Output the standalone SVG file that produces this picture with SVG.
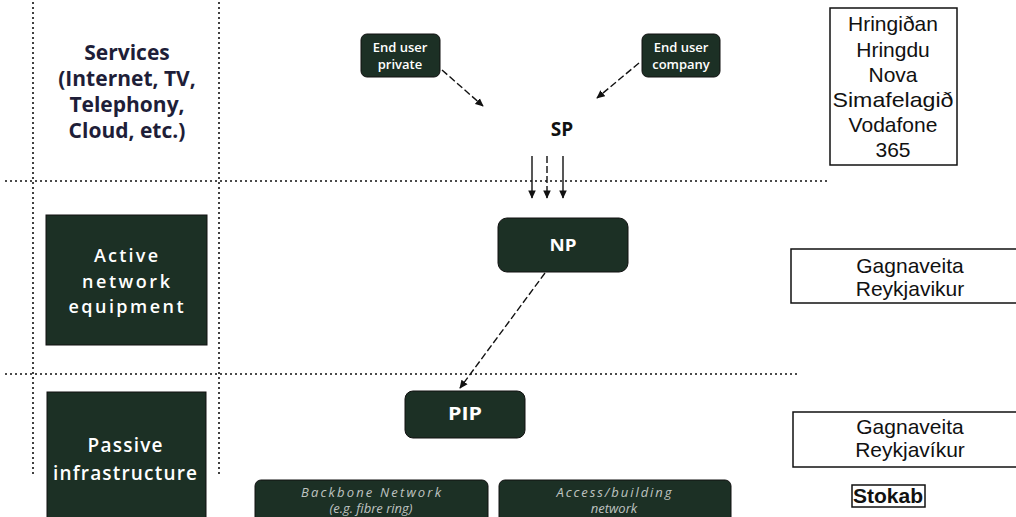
<svg xmlns="http://www.w3.org/2000/svg" width="1016" height="517" viewBox="0 0 1016 517">
<style>
.bg{fill:#ffffff}
.dot{stroke:#111;stroke-width:1.6;stroke-dasharray:2 3;fill:none}
.dash{stroke:#111;stroke-width:1.4;stroke-dasharray:7 3;fill:none}
.solid{stroke:#111;stroke-width:1.4;fill:none}
.dk{fill:#1c3025;stroke:#111;stroke-width:1}
.lbl{font-family:"Open Sans","DejaVu Sans",sans-serif;fill:#ffffff;text-anchor:middle}
.svc{font-family:"Open Sans","DejaVu Sans",sans-serif;font-weight:bold;fill:#1e1e38;text-anchor:middle;font-size:21px}
.rt{font-family:"Liberation Sans",Arial,sans-serif;fill:#111;text-anchor:middle;font-size:21px}
.box{fill:#fff;stroke:#111;stroke-width:1.5}
.it{font-size:13px;font-style:italic;fill-opacity:0.72}
</style>
<defs>
<marker id="ah" viewBox="0 0 10 10" refX="9" refY="5" markerWidth="6" markerHeight="6" orient="auto-start-reverse">
<path d="M0,0.5 L10,5 L0,9.5 z" fill="#111"/>
</marker>
</defs>
<rect class="bg" width="1016" height="517"/>
<g id="grid">
<line class="dot" x1="33" y1="2" x2="33" y2="475"/>
<line class="dot" x1="219" y1="2" x2="219" y2="475"/>
<line class="dot" x1="5" y1="181" x2="828" y2="181"/>
<line class="dot" x1="5" y1="374" x2="800" y2="374"/>
</g>
<g id="services">
<text class="svc" x="127" y="60">Services</text>
<text class="svc" x="127" y="86">(Internet, TV,</text>
<text class="svc" x="127" y="112">Telephony,</text>
<text class="svc" x="127" y="138">Cloud, etc.)</text>
</g>
<g id="active">
<rect class="dk" x="46" y="215" width="161" height="130"/>
<text class="lbl" x="126" y="262" font-size="18" font-weight="600" textLength="64" lengthAdjust="spacing">Active</text>
<text class="lbl" x="126" y="288" font-size="18" font-weight="600" textLength="88" lengthAdjust="spacing">network</text>
<text class="lbl" x="126" y="313" font-size="18" font-weight="600" textLength="115" lengthAdjust="spacing">equipment</text>
</g>
<g id="passive">
<rect class="dk" x="47" y="392" width="159" height="130"/>
<text class="lbl" x="125" y="452" font-size="19" font-weight="600" textLength="75" lengthAdjust="spacing">Passive</text>
<text class="lbl" x="125" y="480" font-size="19" font-weight="600" textLength="144" lengthAdjust="spacing">infrastructure</text>
</g>
<g id="enduser-private">
<rect class="dk" x="361" y="34" width="79" height="43" rx="6"/>
<text class="lbl" x="400" y="52" font-size="13" font-weight="600">End user</text>
<text class="lbl" x="400" y="69" font-size="13" font-weight="600">private</text>
</g>
<g id="enduser-company">
<rect class="dk" x="642" y="34" width="78" height="43" rx="6"/>
<text class="lbl" x="681" y="52" font-size="13" font-weight="600">End user</text>
<text class="lbl" x="681" y="69" font-size="13" font-weight="600">company</text>
</g>
<g id="sp">
<text class="svc" x="562" y="136" style="fill:#111;font-size:19px">SP</text>
</g>
<g id="np">
<rect class="dk" x="498" y="218" width="130" height="54" rx="9"/>
<text class="lbl" x="563" y="251" font-size="16" font-weight="bold" textLength="27" lengthAdjust="spacingAndGlyphs">NP</text>
</g>
<g id="pip">
<rect class="dk" x="405" y="391" width="120" height="47" rx="8"/>
<text class="lbl" x="465" y="420" font-size="18" font-weight="bold" textLength="34" lengthAdjust="spacingAndGlyphs">PIP</text>
</g>
<g id="backbone">
<rect class="dk" x="255" y="480" width="233" height="45" rx="6"/>
<text class="lbl it" x="371" y="497" textLength="140" lengthAdjust="spacing">Backbone Network</text>
<text class="lbl it" x="371" y="513">(e.g. fibre ring)</text>
</g>
<g id="access">
<rect class="dk" x="499" y="480" width="232" height="45" rx="6"/>
<text class="lbl it" x="614" y="497" textLength="115" lengthAdjust="spacing">Access/building</text>
<text class="lbl it" x="614" y="513">network</text>
</g>
<g id="providers">
<rect class="box" x="830" y="8" width="127" height="157"/>
<text class="rt" x="893" y="31">Hringiðan</text>
<text class="rt" x="893" y="57">Hringdu</text>
<text class="rt" x="893" y="82">Nova</text>
<text class="rt" x="893" y="107" textLength="121" lengthAdjust="spacingAndGlyphs">Simafelagið</text>
<text class="rt" x="893" y="132">Vodafone</text>
<text class="rt" x="893" y="157">365</text>
</g>
<g id="gr-active">
<rect class="box" x="791" y="249" width="240" height="54"/>
<text class="rt" x="910" y="273">Gagnaveita</text>
<text class="rt" x="910" y="296">Reykjavikur</text>
</g>
<g id="gr-passive">
<rect class="box" x="793" y="412" width="240" height="55"/>
<text class="rt" x="910" y="434">Gagnaveita</text>
<text class="rt" x="910" y="457">Reykjavíkur</text>
</g>
<g id="stokab">
<rect class="box" x="852" y="485" width="73" height="22"/>
<text class="rt" x="888" y="503" font-weight="bold">Stokab</text>
</g>
<g id="connectors">
<line class="dash" x1="442" y1="70" x2="483" y2="106" marker-end="url(#ah)"/>
<line class="dash" x1="639" y1="63" x2="597" y2="98" marker-end="url(#ah)"/>
<line class="solid" x1="532" y1="156" x2="532" y2="198" marker-end="url(#ah)"/>
<line class="dash" x1="547" y1="156" x2="547" y2="198" marker-end="url(#ah)"/>
<line class="solid" x1="563" y1="156" x2="563" y2="198" marker-end="url(#ah)"/>
<line class="dash" x1="545" y1="273" x2="460" y2="388" marker-end="url(#ah)"/>
</g>
</svg>
